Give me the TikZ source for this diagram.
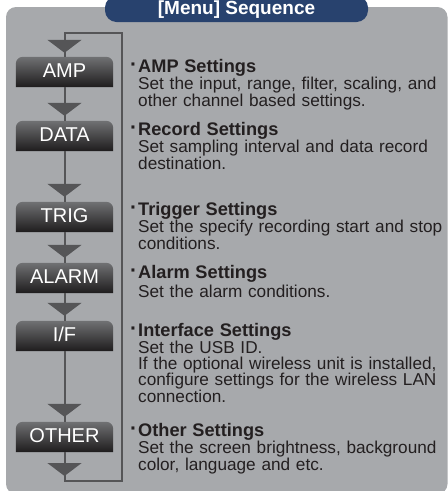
\documentclass[tikz,border=0pt]{standalone}
\usepackage{fontspec}
\setmainfont{Liberation Sans}
\usetikzlibrary{arrows.meta}
\definecolor{panelgray}{HTML}{A7A9AC}
\definecolor{tabblue}{HTML}{28426E}
\definecolor{boxtop}{HTML}{707173}
\definecolor{boxbot}{HTML}{1E1C1D}
\definecolor{linegray}{HTML}{555557}
\definecolor{txt}{HTML}{231F20}
\pgfdeclarelayer{panellayer}
\pgfdeclarelayer{boxlayer}
\pgfsetlayers{panellayer,boxlayer,main}
\AtBeginDocument{\lineskiplimit=-20pt\relax}
\newcommand\blockhead[1]{\lineskiplimit=-20pt\relax{\bfseries\fontsize{18.2pt}{15.8pt}\selectfont\llap{\raisebox{0.8pt}{\fontsize{21pt}{15.8pt}\selectfont·}\hspace{1pt}}#1}\\[1.7pt]}
\begin{document}
\begin{tikzpicture}[x=1pt,y=-1pt,
  menubox/.style={minimum width=97pt,minimum height=30pt,inner sep=0pt,text=white,
    font=\fontsize{20pt}{22pt}\selectfont,text height=14.3pt,text depth=3pt},
  conn/.style={draw=linegray,line width=2pt},
  tipped/.style={-{Triangle[width=34pt,length=13pt]},shorten >=5pt},
  desc/.style={anchor=base west,inner sep=0pt,text width=320pt,align=left,text=txt,
    font=\fontsize{17.2pt}{15.8pt}\selectfont},
  boxshade/.style={top color=boxtop,bottom color=boxbot,rounded corners=7pt},
]
\useasboundingbox (0,0) rectangle (448,491);

% panel and title tab
\begin{pgfonlayer}{panellayer}
\fill[panelgray,rounded corners=10pt] (6,7) rectangle (447.5,494);
\fill[tabblue,rounded corners=11.5pt] (105,-4) rectangle (368,22);
\end{pgfonlayer}
\node[anchor=base,inner sep=0pt,text=white,font=\bfseries\fontsize{19pt}{21pt}\selectfont] (title) at (236.5,14) {[Menu] Sequence};

% menu boxes
\node[menubox] (amp)   at (64.5,72)  {AMP};
\node[menubox] (data)  at (64.5,136) {DATA};
\node[menubox] (trig)  at (64.5,217) {TRIG};
\node[menubox] (alarm) at (64.5,278) {ALARM};
\node[menubox] (iface) at (64.5,336) {I/F};
\node[menubox] (other) at (64.5,437) {OTHER};

\begin{pgfonlayer}{boxlayer}
\foreach \n in {amp,data,trig,alarm,iface,other}{
  \shade[boxshade] (\n.south west) -- (\n.north west) -- (\n.north east) -- (\n.south east);
}
\end{pgfonlayer}

% connectors between boxes
\foreach \a/\b in {amp/data,data/trig,trig/alarm,alarm/iface,iface/other}{
  \draw[conn] (\a) -- (\b);
  \draw[conn,tipped] (\a) -- (\b);
}

% loop back
\coordinate (botTip) at (64.5,476);
\coordinate (botL) at (64.5,481);
\coordinate (botR) at (122,481);
\coordinate (topR) at (122,33);
\coordinate (topL) at (64.5,33);
\draw[conn] (other.south) -- (botL) -- (botR) -- (topR) -- (topL) -- (amp.north);
\draw[conn,-{Triangle[width=34pt,length=13pt]}] (other.south) -- (botTip);
\draw[conn,tipped,shorten >=4pt] (topL) -- (amp.north);

% descriptions
\node[desc] (damp) at (138,72) {\blockhead{AMP Settings}Set the input, range, filter, scaling, and\\other channel based settings.};
\node[desc] (ddata) at (138,135) {\blockhead{Record Settings}Set sampling interval and data record\\destination.};
\node[desc] (dtrig) at (138,215) {\blockhead{Trigger Settings}Set the specify recording start and stop\\conditions.};
\node[desc] (dalarm) at (138,278) {\blockhead{Alarm Settings}Set the alarm conditions.};
\node[desc] (diface) at (138,336) {\blockhead{Interface Settings}Set the USB ID.\\If the optional wireless unit is installed,\\configure settings for the wireless LAN\\connection.};
\node[desc] (dother) at (138,436) {\blockhead{Other Settings}Set the screen brightness, background\\color, language and etc.};
\end{tikzpicture}
\end{document}
